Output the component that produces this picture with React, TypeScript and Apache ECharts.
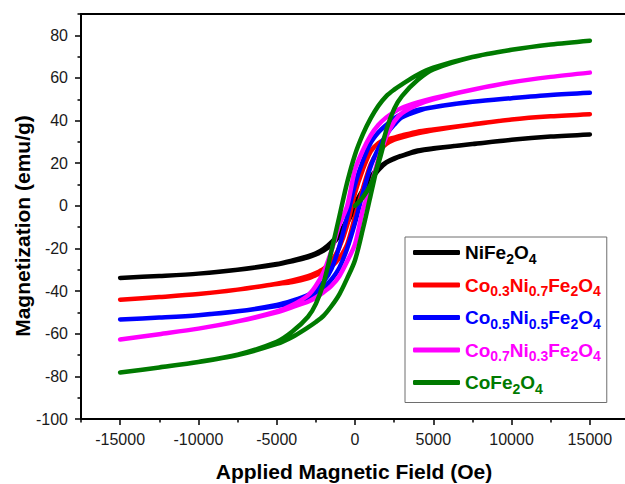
import React, { useEffect, useRef } from 'react';
import * as echarts from 'echarts';

const FONT = '"Liberation Sans", Arial, sans-serif';

// Applied field (Oe) – descending branch then ascending branch
const fieldDesc = [15000, 12500, 10000, 7500, 5000, 4000, 3000, 2500, 2000, 1500, 1000, 500, 0, -500, -1000, -1500, -2000, -2500, -3000, -4000, -5000, -7500, -10000, -12500, -15000];
const fieldAsc = [-15000, -12500, -10000, -7500, -5000, -4000, -3000, -2500, -2000, -1500, -1000, -500, 0, 500, 1000, 1500, 2000, 2500, 3000, 4000, 5000, 7500, 10000, 12500, 15000];

// Magnetization (emu/g)
const niDesc = [33.5, 32.5, 31, 29, 27, 26, 23.6, 22.3, 20.5, 17.8, 13.5, 7.5, 1, -6.5, -13, -17, -20.2, -22.3, -23.6, -25.6, -27.3, -30, -31.8, -32.9, -33.8];
const niAsc = [-33.8, -32.9, -31.8, -30, -27.5, -26, -24.2, -22.8, -21, -18.3, -14, -8, -1, 6, 12, 16.8, 20.2, 22, 23.4, 25.6, 26.8, 29, 31, 32.5, 33.5];

const co03Desc = [43, 42, 40.5, 38.2, 35.8, 34.8, 33, 32, 31, 29.5, 25.5, 17, 6, -9, -19.5, -26, -29.5, -31.5, -33, -35, -36.5, -39.3, -41.4, -42.8, -44];
const co03Asc = [-44, -42.8, -41.4, -39.3, -36.7, -35.7, -34, -32.5, -31, -28.5, -24.5, -18, -5, 8, 19.5, 25.5, 29, 31, 32.2, 34, 35.5, 38.2, 40.5, 42, 43];

const co05Desc = [53, 52, 50.5, 48.8, 46.3, 45, 43, 41, 38, 34.5, 29.5, 21, 10, -5, -19, -29.5, -35.5, -39, -41.8, -44.5, -46.5, -49.5, -51.3, -52.4, -53.3];
const co05Asc = [-53.3, -52.4, -51.3, -49.5, -47, -45.5, -43.5, -41.5, -38.5, -34.5, -29, -20, -8, 6, 18.5, 27, 33.5, 38, 41.5, 44.5, 46.3, 48.8, 50.5, 52, 53];

const co07Desc = [62.5, 60.5, 58, 54.5, 50.5, 48.5, 46, 44, 41.5, 38, 33, 26, 17, 0, -9, -21, -31, -37.5, -42, -46.5, -49.5, -54.2, -57.6, -60.2, -62.7];
const co07Asc = [-62.7, -60.2, -57.6, -54.2, -50, -47.5, -45, -43, -40.5, -37.5, -33, -26, -18, -2, 9, 22, 32.5, 39.5, 43.5, 47.5, 50, 54.5, 58, 60.5, 62.5];

const coDesc = [77.5, 75.7, 73.2, 69.8, 64.8, 61.5, 57, 54.5, 51.5, 47, 41, 33.5, 24, 11, -5, -21, -36, -46, -52, -59, -63.8, -69.8, -73.2, -75.8, -78.2];
const coAsc = [-78.2, -75.8, -73.3, -70, -64.8, -61.5, -57, -54.5, -51.5, -47, -41.5, -34, -25.5, -11, 5, 21, 35.5, 45.5, 51.5, 59, 64, 69.8, 73.2, 75.7, 77.5];
const coInitField = [0, 500, 1000, 1500, 1800];
const coInitM = [0, 4, 10, 20, 28];

const xMajorTicks = [-15000, -10000, -5000, 0, 5000, 10000, 15000];
const xMinorTicks = [-17500, -12500, -7500, -2500, 2500, 7500, 12500, 17500];
const yMajorTicks = [-100, -80, -60, -40, -20, 0, 20, 40, 60, 80];
const yMinorTicks = [-90, -70, -50, -30, -10, 10, 30, 50, 70, 90];

const names = ['NiFe2O4', 'Co0.3Ni0.7Fe2O4', 'Co0.5Ni0.5Fe2O4', 'Co0.7Ni0.3Fe2O4', 'CoFe2O4'];
const colors = ['#000000', '#ff0000', '#0000ff', '#ff00ff', '#007a00'];
const labelRich: Record<string, string> = {
  'NiFe2O4': '{m|NiFe}{s|2}{m|O}{s|4}',
  'Co0.3Ni0.7Fe2O4': '{m|Co}{s|0.3}{m|Ni}{s|0.7}{m|Fe}{s|2}{m|O}{s|4}',
  'Co0.5Ni0.5Fe2O4': '{m|Co}{s|0.5}{m|Ni}{s|0.5}{m|Fe}{s|2}{m|O}{s|4}',
  'Co0.7Ni0.3Fe2O4': '{m|Co}{s|0.7}{m|Ni}{s|0.3}{m|Fe}{s|2}{m|O}{s|4}',
  'CoFe2O4': '{m|CoFe}{s|2}{m|O}{s|4}',
};

function loop(desc: number[], asc: number[]): number[][] {
  const pts: number[][] = [];
  fieldDesc.forEach((h, i) => pts.push([h, desc[i]]));
  fieldAsc.forEach((h, i) => {
    const last = pts[pts.length - 1];
    if (last[0] === h && last[1] === asc[i]) return;
    pts.push([h, asc[i]]);
  });
  return pts;
}

export default function App() {
  const ref = useRef<HTMLDivElement>(null);
  useEffect(() => {
    if (!ref.current) return;
    const chart = echarts.init(ref.current, null, { renderer: 'svg' });
    const loops = [
      loop(niDesc, niAsc),
      loop(co03Desc, co03Asc),
      loop(co05Desc, co05Asc),
      loop(co07Desc, co07Asc),
      loop(coDesc, coAsc),
    ];
    const lineSeries = (name: string, color: string, data: number[][], z: number) => ({
      type: 'line',
      name,
      data,
      xAxisIndex: 0,
      yAxisIndex: 0,
      symbol: 'none',
      smooth: 0.3,
      z,
      lineStyle: { color, width: 4.5, cap: 'round', join: 'round' },
      itemStyle: { color },
    });
    const series: any[] = names.map((n, i) => lineSeries(n, colors[i], loops[i], 2 + i));
    series.push(lineSeries('CoFe2O4', colors[4], coInitField.map((h, i) => [h, coInitM[i]]), 7));

    const axisColor = '#000';
    const tickFont = { fontSize: 16, color: '#1a1a1a', fontFamily: FONT };
    chart.setOption({
      animation: false,
      grid: { left: 81, right: -4, top: 14, bottom: 65, containLabel: false, outerBoundsMode: 'none' },
      xAxis: [
        {
          type: 'value', min: -17500, max: 17500, position: 'bottom',
          axisLine: { onZero: false, lineStyle: { color: axisColor, width: 2 } },
          axisTick: { customValues: xMajorTicks, length: 6, inside: false, lineStyle: { color: axisColor, width: 1.5 } },
          axisLabel: { customValues: xMajorTicks, margin: 12, formatter: (v: number) => String(v), ...tickFont },
          splitLine: { show: false },
        },
        {
          type: 'value', min: -17500, max: 17500, position: 'bottom',
          axisLine: { show: false, onZero: false },
          axisTick: { customValues: xMinorTicks, length: 3.5, inside: false, lineStyle: { color: axisColor, width: 1.5 } },
          axisLabel: { show: false },
          splitLine: { show: false },
        },
        {
          type: 'value', min: -17500, max: 17500, position: 'top',
          axisLine: { onZero: false, lineStyle: { color: axisColor, width: 2 } },
          axisTick: { show: false },
          axisLabel: { show: false },
          splitLine: { show: false },
        },
      ],
      yAxis: [
        {
          type: 'value', min: -100, max: 90, position: 'left',
          axisLine: { onZero: false, lineStyle: { color: axisColor, width: 2 } },
          axisTick: { customValues: yMajorTicks, length: 6, inside: false, lineStyle: { color: axisColor, width: 1.5 } },
          axisLabel: { customValues: yMajorTicks, margin: 13, formatter: (v: number) => String(v), ...tickFont },
          splitLine: { show: false },
        },
        {
          type: 'value', min: -100, max: 90, position: 'left',
          axisLine: { show: false, onZero: false },
          axisTick: { customValues: yMinorTicks, length: 3.5, inside: false, lineStyle: { color: axisColor, width: 1.5 } },
          axisLabel: { show: false },
          splitLine: { show: false },
        },
      ],
      legend: {
        orient: 'vertical',
        left: 405,
        top: 237,
        padding: [6, 6, 7, 8],
        itemGap: 10,
        itemWidth: 47,
        itemHeight: 5,
        icon: 'roundRect',
        selectedMode: false,
        borderColor: '#6e6e6e',
        borderWidth: 1,
        backgroundColor: '#ffffff',
        data: names.map((n, i) => ({
          name: n,
          itemStyle: { color: colors[i] },
          textStyle: {
            color: colors[i],
            rich: {
              m: { fontSize: 19, fontWeight: 'bold', fontFamily: FONT, color: colors[i], lineHeight: 26, verticalAlign: 'middle' },
              s: { fontSize: 14, fontWeight: 'bold', fontFamily: FONT, color: colors[i], lineHeight: 9, verticalAlign: 'bottom' },
            },
          },
        })),
        formatter: (name: string) => labelRich[name] || name,
        textStyle: { fontFamily: FONT, fontWeight: 'bold', fontSize: 19 },
      },
      graphic: [
        {
          type: 'text', x: 22, y: 226, rotation: Math.PI / 2,
          style: { text: 'Magnetization (emu/g)', fontFamily: FONT, fontWeight: 'bold', fontSize: 21, fill: '#000', textAlign: 'center', textVerticalAlign: 'middle' },
        },
        {
          type: 'text', x: 354, y: 471,
          style: { text: 'Applied Magnetic Field (Oe)', fontFamily: FONT, fontWeight: 'bold', fontSize: 21, fill: '#000', textAlign: 'center', textVerticalAlign: 'middle' },
        },
      ],
      series,
    });
    return () => chart.dispose();
  }, []);
  return (
    <div style={{ position: 'absolute', left: 0, top: 0, width: 625, height: 484, overflow: 'hidden', background: '#fff' }}>
      <div ref={ref} style={{ width: 625, height: 484 }} />
    </div>
  );
}
